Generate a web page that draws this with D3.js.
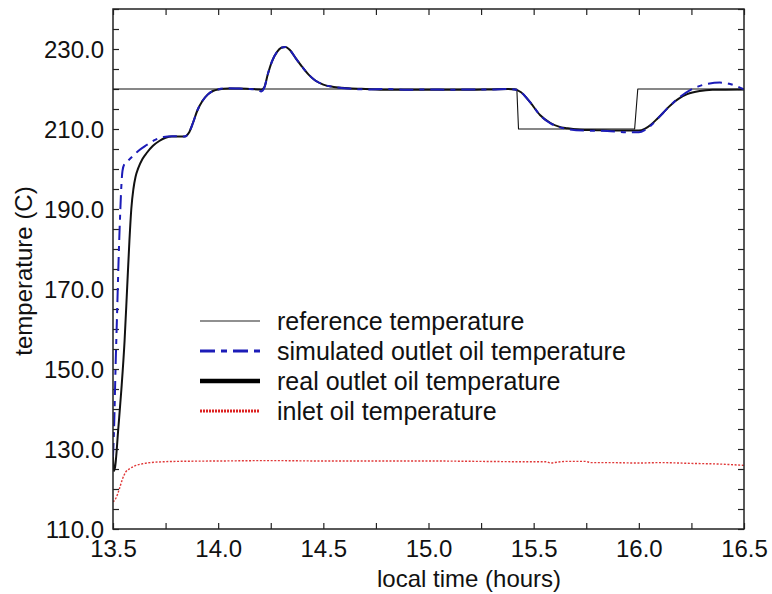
<!DOCTYPE html>
<html>
<head>
<meta charset="utf-8">
<script src="https://cdn.jsdelivr.net/npm/d3@7/dist/d3.min.js"></script>
<style>
  html, body { margin: 0; padding: 0; background: #fff; }
  svg { display: block; }
  text { font-family: "Liberation Sans", Arial, Helvetica, sans-serif; fill: #111; }
</style>
</head>
<body>
<svg id="chart" width="772" height="594"></svg>
<script>
// Oil temperature control run: set point, simulated and measured outlet, inlet.
const referenceTemp = [
  [13.50, 220], [15.420, 220], [15.428, 210], [15.980, 210], [15.995, 220], [16.50, 220]
];

const realOutlet = [
  [13.500, 128.0], [13.504, 124.5], [13.510, 125.5], [13.525, 135.0], [13.540, 145.0],
  [13.555, 157.0], [13.567, 170.0], [13.578, 182.0], [13.587, 190.0], [13.597, 195.0],
  [13.607, 198.0], [13.620, 200.2], [13.640, 202.5], [13.660, 204.0], [13.690, 205.8],
  [13.720, 207.0], [13.750, 207.8], [13.780, 208.1], [13.840, 208.1], [13.860, 209.0],
  [13.880, 211.5], [13.900, 214.5], [13.925, 217.0], [13.950, 218.6], [13.975, 219.5],
  [14.000, 219.9], [14.050, 220.1], [14.100, 220.1], [14.150, 220.0], [14.190, 219.9],
  [14.205, 219.8], [14.220, 220.5], [14.235, 223.5], [14.255, 226.8], [14.280, 229.3],
  [14.300, 230.3], [14.320, 230.5], [14.340, 229.8], [14.370, 227.6], [14.400, 225.5],
  [14.430, 223.6], [14.460, 222.2], [14.500, 221.1], [14.550, 220.5], [14.620, 220.2],
  [14.700, 220.0], [14.800, 219.8], [14.900, 219.8], [15.000, 219.8], [15.100, 219.8],
  [15.200, 219.8], [15.300, 219.9], [15.380, 220.0], [15.410, 219.9], [15.440, 219.2],
  [15.483, 216.7], [15.530, 213.5], [15.580, 211.5], [15.620, 210.6], [15.660, 210.2],
  [15.720, 209.8], [15.800, 209.7], [15.900, 209.6], [16.000, 209.6], [16.030, 210.1],
  [16.060, 211.2], [16.090, 212.7], [16.115, 214.0], [16.140, 215.4], [16.160, 216.4],
  [16.190, 217.6], [16.230, 218.7], [16.290, 219.5], [16.350, 219.8], [16.500, 219.9]
];

const simulatedOutlet = [
  [13.500, 128.0], [13.505, 135.0], [13.512, 150.0], [13.520, 165.0], [13.527, 178.0],
  [13.535, 190.0], [13.540, 196.0], [13.545, 199.5], [13.555, 201.3], [13.570, 202.0],
  [13.590, 203.0], [13.620, 204.5], [13.660, 206.0], [13.700, 207.3], [13.740, 208.0],
  [13.780, 208.2], [13.840, 208.1], [13.860, 209.0], [13.880, 211.5], [13.900, 214.5],
  [13.925, 217.0], [13.950, 218.6], [13.975, 219.5], [14.000, 219.9], [14.050, 220.2],
  [14.100, 220.1], [14.150, 220.0], [14.190, 219.7], [14.205, 219.4], [14.220, 220.4],
  [14.235, 223.5], [14.255, 226.8], [14.280, 229.3], [14.300, 230.3], [14.320, 230.5],
  [14.340, 229.8], [14.370, 227.6], [14.400, 225.5], [14.430, 223.6], [14.460, 222.2],
  [14.500, 221.1], [14.550, 220.5], [14.620, 220.1], [14.700, 219.9], [14.800, 220.0],
  [14.900, 219.8], [15.000, 219.9], [15.100, 219.8], [15.200, 219.9], [15.300, 219.9],
  [15.380, 220.0], [15.410, 219.9], [15.440, 219.2], [15.483, 216.7], [15.530, 213.5],
  [15.580, 211.4], [15.620, 210.5], [15.660, 210.0], [15.750, 209.6], [15.850, 209.5],
  [15.950, 209.2], [16.000, 209.2], [16.030, 209.8], [16.060, 211.0], [16.090, 212.6],
  [16.115, 214.0], [16.140, 215.4], [16.160, 216.4], [16.200, 218.2], [16.240, 219.6],
  [16.280, 220.6], [16.330, 221.3], [16.385, 221.6], [16.430, 221.3], [16.470, 220.6],
  [16.500, 219.9]
];

const inletOil = [
  [13.500, 116.8], [13.515, 117.8], [13.530, 120.0], [13.545, 122.5], [13.560, 124.2],
  [13.580, 125.1], [13.600, 125.7], [13.640, 126.3], [13.700, 126.7], [13.800, 126.9],
  [14.000, 127.0], [14.250, 127.1], [14.500, 127.0], [14.750, 127.0], [15.000, 127.0],
  [15.250, 126.9], [15.500, 126.8], [15.560, 126.8], [15.580, 126.5], [15.610, 126.7],
  [15.650, 126.9], [15.750, 126.9], [15.770, 126.6], [15.850, 126.6], [16.000, 126.5],
  [16.100, 126.6], [16.250, 126.4], [16.400, 126.2], [16.500, 125.9]
];

const xTickLabels = [13.5, 14.0, 14.5, 15.0, 15.5, 16.0, 16.5];
const yTickLabels = [110, 130, 150, 170, 190, 210, 230];

const legendItems = [
  { label: "reference temperature", key: "ref" },
  { label: "simulated outlet oil temperature", key: "sim" },
  { label: "real outlet oil temperature", key: "real" },
  { label: "inlet oil temperature", key: "inlet" }
];

const styles = {
  ref:   { stroke: "#111", width: 1.1, dash: null },
  sim:   { stroke: "#1c1cb8", width: 2, dash: "14,6,5,6" },
  real:  { stroke: "#111", width: 2, dash: null },
  inlet: { stroke: "#e03838", width: 1.4, dash: "2,1.6" }
};
const legendStyles = {
  ref:   { stroke: "#222", width: 1.1, dash: null },
  sim:   { stroke: "#1c1cb8", width: 3, dash: "15,6,6,6" },
  real:  { stroke: "#000", width: 4.5, dash: null },
  inlet: { stroke: "#dd2222", width: 3, dash: "2,1" }
};

const svg = d3.select("#chart");
const plot = { left: 113, right: 744, top: 9, bottom: 529 };

const x = d3.scaleLinear().domain([13.5, 16.5]).range([plot.left, plot.right]);
const y = d3.scaleLinear().domain([110, 240]).range([plot.bottom, plot.top]);

svg.append("defs").append("clipPath").attr("id", "plotClip")
  .append("rect")
  .attr("x", plot.left).attr("y", plot.top)
  .attr("width", plot.right - plot.left).attr("height", plot.bottom - plot.top);

const minorX = d3.range(13.5, 16.5001, 0.25);
const minorY = d3.range(110, 240.001, 5);
const tickLen = 6;

// inward ticks on all four sides, with labels on the left and bottom only
const axisStyle = g => {
  g.select(".domain").remove();
  g.selectAll(".tick line").attr("stroke", "#222").attr("stroke-width", 1.2);
};

svg.append("g").attr("transform", `translate(0,${plot.bottom})`)
  .call(d3.axisTop(x).tickValues(minorX).tickSize(tickLen).tickFormat(""))
  .call(axisStyle);
svg.append("g").attr("transform", `translate(0,${plot.top})`)
  .call(d3.axisBottom(x).tickValues(minorX).tickSize(tickLen).tickFormat(""))
  .call(axisStyle);
svg.append("g").attr("transform", `translate(${plot.left},0)`)
  .call(d3.axisRight(y).tickValues(minorY).tickSize(tickLen).tickFormat(""))
  .call(axisStyle);
svg.append("g").attr("transform", `translate(${plot.right},0)`)
  .call(d3.axisLeft(y).tickValues(minorY).tickSize(tickLen).tickFormat(""))
  .call(axisStyle);

// tick labels
const xLab = svg.append("g").attr("transform", `translate(0,${plot.bottom})`)
  .call(d3.axisBottom(x).tickValues(xTickLabels).tickSize(0).tickPadding(0)
    .tickFormat(d3.format(".1f")));
xLab.select(".domain").remove();
xLab.selectAll(".tick text")
  .attr("y", 28).attr("dy", null)
  .style("font-size", "24px").style("font-family", "'Liberation Sans', Arial, sans-serif")
  .attr("fill", "#111");

const yLab = svg.append("g").attr("transform", `translate(${plot.left},0)`)
  .call(d3.axisLeft(y).tickValues(yTickLabels).tickSize(0).tickPadding(9)
    .tickFormat(d3.format(".1f")));
yLab.select(".domain").remove();
yLab.selectAll(".tick text")
  .attr("dy", "0.36em")
  .style("font-size", "24px").style("font-family", "'Liberation Sans', Arial, sans-serif")
  .attr("fill", "#111");

// series
const smooth = d3.line().x(d => x(d[0])).y(d => y(d[1])).curve(d3.curveMonotoneX);
const straight = d3.line().x(d => x(d[0])).y(d => y(d[1]));

const series = svg.append("g").attr("clip-path", "url(#plotClip)").attr("fill", "none");

function drawSeries(data, st, gen) {
  series.append("path")
    .datum(data)
    .attr("d", gen)
    .attr("stroke", st.stroke)
    .attr("stroke-width", st.width)
    .attr("stroke-dasharray", st.dash)
    .attr("stroke-linejoin", "round");
}

drawSeries(inletOil, styles.inlet, smooth);
drawSeries(referenceTemp, styles.ref, straight);
drawSeries(realOutlet, styles.real, smooth);
drawSeries(simulatedOutlet, styles.sim, smooth);

// frame
svg.append("rect")
  .attr("x", plot.left).attr("y", plot.top)
  .attr("width", plot.right - plot.left).attr("height", plot.bottom - plot.top)
  .attr("fill", "none").attr("stroke", "#222").attr("stroke-width", 1.5);

// axis titles
svg.append("text")
  .attr("x", 377).attr("y", 587)
  .style("font-size", "24px")
  .text("local time (hours)");

svg.append("text")
  .attr("transform", "translate(32,271) rotate(-90)")
  .attr("text-anchor", "middle")
  .style("font-size", "24px")
  .text("temperature (C)");

// legend
const legend = svg.append("g");
legendItems.forEach((item, i) => {
  const ly = 321 + i * 30;
  const st = legendStyles[item.key];
  legend.append("line")
    .attr("x1", 200).attr("x2", 260).attr("y1", ly).attr("y2", ly)
    .attr("stroke", st.stroke).attr("stroke-width", st.width)
    .attr("stroke-dasharray", st.dash);
  legend.append("text")
    .attr("x", 277).attr("y", ly).attr("dy", "0.35em")
    .style("font-size", "25px")
    .text(item.label);
});
</script>
</body>
</html>
